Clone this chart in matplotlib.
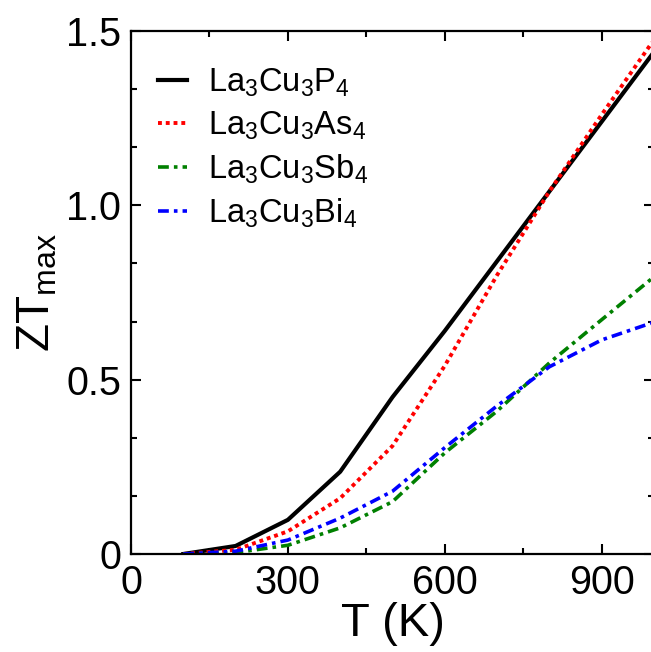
import matplotlib
matplotlib.use("Agg")
import matplotlib.pyplot as plt
from matplotlib.ticker import MultipleLocator

plt.rcParams["font.family"] = ["Liberation Sans", "DejaVu Sans"]
plt.rcParams["mathtext.fontset"] = "custom"
plt.rcParams["mathtext.rm"] = "Liberation Sans"
plt.rcParams["mathtext.it"] = "Liberation Sans"
plt.rcParams["mathtext.default"] = "regular"

# temperature (K) and ZT values
temps = [100, 200, 300, 400, 500, 600, 700, 800, 900, 1000]
zt_p4 = [0.0, 0.023, 0.098, 0.236, 0.45, 0.64, 0.84, 1.04, 1.24, 1.44]
zt_as4 = [0.0, 0.012, 0.065, 0.16, 0.31, 0.54, 0.80, 1.04, 1.26, 1.475]
zt_sb4 = [0.0, 0.004, 0.025, 0.075, 0.15, 0.29, 0.41, 0.548, 0.672, 0.795]
zt_bi4 = [0.0, 0.008, 0.04, 0.103, 0.18, 0.305, 0.425, 0.537, 0.614, 0.665]

labels = [r"La$_3$Cu$_3$P$_4$", r"La$_3$Cu$_3$As$_4$",
          r"La$_3$Cu$_3$Sb$_4$", r"La$_3$Cu$_3$Bi$_4$"]

fig = plt.figure(figsize=(6.51, 6.52), dpi=100)
ax = fig.add_axes([131 / 651, 98 / 652, 523 / 651, 523 / 652])

ax.plot(temps, zt_p4, color="black", lw=3.0, ls="-", label=labels[0])
ax.plot(temps, zt_as4, color="red", lw=2.8, ls=(0, (1, 1)), label=labels[1])
ax.plot(temps, zt_sb4, color="green", lw=2.6, ls=(0, (3, 1.4, 1, 1.4)), label=labels[2])
ax.plot(temps, zt_bi4, color="blue", lw=2.6, ls=(0, (3, 1.4, 1, 1.4)), label=labels[3])

ax.set_xlim(0, 1000)
ax.set_ylim(0, 1.5)
ax.xaxis.set_major_locator(MultipleLocator(300))
ax.xaxis.set_minor_locator(MultipleLocator(150))
ax.yaxis.set_minor_locator(MultipleLocator(0.5 / 3))
ax.set_yticks([0, 0.5, 1.0, 1.5])
ax.set_yticklabels(["0", "0.5", "1.0", "1.5"])

ax.tick_params(which="both", direction="in", top=True, right=True, width=1.5,
               labelsize=28.5)
ax.tick_params(which="major", length=7, pad=7)
ax.tick_params(which="minor", length=4)
for sp in ax.spines.values():
    sp.set_linewidth(1.6)

ax.set_xlabel("T (K)", fontsize=34, labelpad=0)
ax.set_ylabel(r"ZT$_{max}$", fontsize=33, labelpad=5)

ax.legend(loc="upper left", bbox_to_anchor=(0.02, 0.964), frameon=False,
          fontsize=23.5, handlelength=0.9, handletextpad=0.65,
          labelspacing=0.33, borderpad=0)

fig.savefig("out.png", dpi=100)
